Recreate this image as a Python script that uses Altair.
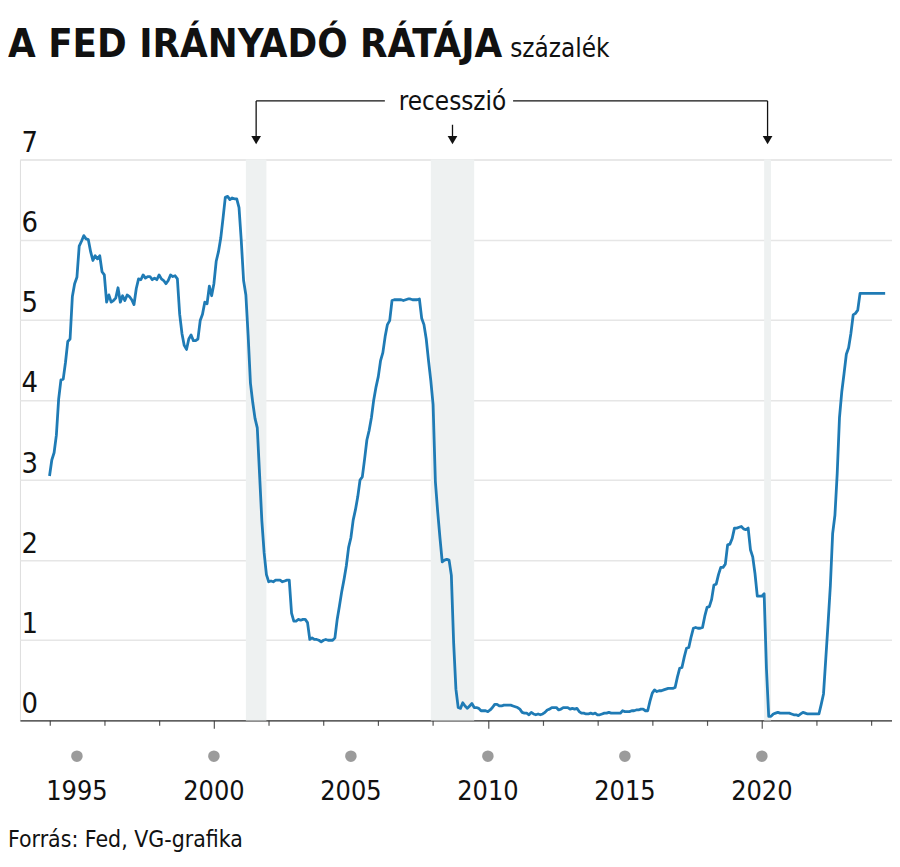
import altair as alt
import pandas as pd

# ---- data: monthly effective federal funds rate (%), Jan..Dec ----
r1994 = [3.05, 3.25, 3.34, 3.56, 4.01, 4.25, 4.26, 4.47, 4.73, 4.76, 5.29, 5.45]
r1995 = [5.53, 5.92, 5.98, 6.05, 6.01, 6.00, 5.85, 5.74, 5.80, 5.76, 5.80, 5.60]
r1996 = [5.56, 5.22, 5.31, 5.22, 5.24, 5.27, 5.40, 5.22, 5.30, 5.24, 5.31, 5.29]
r1997 = [5.25, 5.19, 5.39, 5.51, 5.50, 5.56, 5.52, 5.54, 5.54, 5.50, 5.52, 5.50]
r1998 = [5.56, 5.51, 5.49, 5.45, 5.49, 5.56, 5.54, 5.55, 5.51, 5.07, 4.83, 4.68]
r1999 = [4.63, 4.76, 4.81, 4.74, 4.74, 4.76, 4.99, 5.07, 5.22, 5.20, 5.42, 5.30]
r2000 = [5.45, 5.73, 5.85, 6.02, 6.27, 6.53, 6.54, 6.50, 6.52, 6.51, 6.51, 6.40]
r2001 = [5.98, 5.49, 5.31, 4.80, 4.21, 3.97, 3.77, 3.65, 3.07, 2.49, 2.09, 1.82]
r2002 = [1.73, 1.74, 1.73, 1.75, 1.75, 1.75, 1.73, 1.74, 1.75, 1.75, 1.34, 1.24]
r2003 = [1.24, 1.26, 1.25, 1.26, 1.26, 1.22, 1.01, 1.03, 1.01, 1.01, 1.00, 0.98]
r2004 = [1.00, 1.01, 1.00, 1.00, 1.00, 1.03, 1.26, 1.43, 1.61, 1.76, 1.93, 2.16]
r2005 = [2.28, 2.50, 2.63, 2.79, 3.00, 3.04, 3.26, 3.50, 3.62, 3.78, 4.00, 4.16]
r2006 = [4.29, 4.49, 4.59, 4.79, 4.94, 4.99, 5.24, 5.25, 5.25, 5.25, 5.25, 5.24]
r2007 = [5.25, 5.26, 5.26, 5.25, 5.25, 5.25, 5.26, 5.02, 4.94, 4.76, 4.49, 4.24]
r2008 = [3.94, 2.98, 2.61, 2.28, 1.98, 2.00, 2.01, 2.00, 1.81, 0.97, 0.39, 0.16]
r2009 = [0.15, 0.22, 0.18, 0.15, 0.18, 0.21, 0.16, 0.16, 0.15, 0.12, 0.12, 0.12]
r2010 = [0.11, 0.13, 0.16, 0.20, 0.20, 0.18, 0.18, 0.19, 0.19, 0.19, 0.19, 0.18]
r2011 = [0.17, 0.16, 0.14, 0.10, 0.09, 0.09, 0.07, 0.10, 0.08, 0.07, 0.08, 0.07]
r2012 = [0.08, 0.10, 0.13, 0.14, 0.16, 0.16, 0.16, 0.13, 0.14, 0.16, 0.16, 0.16]
r2013 = [0.14, 0.15, 0.14, 0.15, 0.11, 0.09, 0.09, 0.08, 0.08, 0.09, 0.08, 0.09]
r2014 = [0.07, 0.07, 0.08, 0.09, 0.09, 0.10, 0.09, 0.09, 0.09, 0.09, 0.09, 0.12]
r2015 = [0.11, 0.11, 0.11, 0.12, 0.12, 0.13, 0.13, 0.14, 0.14, 0.12, 0.12, 0.24]
r2016 = [0.34, 0.38, 0.36, 0.37, 0.37, 0.38, 0.39, 0.40, 0.40, 0.40, 0.41, 0.54]
r2017 = [0.65, 0.66, 0.79, 0.90, 0.91, 1.04, 1.15, 1.16, 1.15, 1.15, 1.16, 1.30]
r2018 = [1.41, 1.42, 1.51, 1.69, 1.70, 1.82, 1.91, 1.91, 1.95, 2.19, 2.20, 2.27]
r2019 = [2.40, 2.40, 2.41, 2.42, 2.39, 2.38, 2.40, 2.13, 2.04, 1.83, 1.55, 1.55]
r2020 = [1.55, 1.58, 0.65, 0.05, 0.05, 0.08, 0.09, 0.10, 0.09, 0.09, 0.09, 0.09]
r2021 = [0.09, 0.08, 0.07, 0.07, 0.06, 0.08, 0.10, 0.09, 0.08, 0.08, 0.08, 0.08]
r2022 = [0.08, 0.08, 0.20, 0.33, 0.77, 1.21, 1.68, 2.33, 2.56, 3.08, 3.78, 4.10]
r2023 = [4.33, 4.57, 4.65, 4.83, 5.06, 5.08, 5.12, 5.33, 5.33, 5.33, 5.33, 5.33]
r2024 = [5.33, 5.33, 5.33, 5.33, 5.33, 5.33, 5.33]

series = [r1994, r1995, r1996, r1997, r1998, r1999, r2000, r2001, r2002, r2003,
          r2004, r2005, r2006, r2007, r2008, r2009, r2010, r2011, r2012, r2013,
          r2014, r2015, r2016, r2017, r2018, r2019, r2020, r2021, r2022, r2023, r2024]
first_year = 1994

# recessions (decimal years: start, end)
rec_start = [2001 + 2 / 12, 2007 + 11 / 12, 2020 + 1 / 12]
rec_end = [2001 + 11 / 12, 2009 + 6 / 12, 2020 + 4 / 12]

tick_years = list(range(1994, 2025))
label_years = [1995, 2000, 2005, 2010, 2015, 2020]

title_text = "A FED IRÁNYADÓ RÁTÁJA"
unit_text = "százalék"
annot_text = "recesszió"
source_text = "Forrás: Fed, VG-grafika"

# ---- build tables ----
rows = []
for i, vals in enumerate(series):
    for m, v in enumerate(vals):
        rows.append({"t": first_year + i + m / 12, "rate": v})
df = pd.DataFrame(rows)

rec = pd.DataFrame({"s": rec_start, "e": rec_end})
rec["c"] = (rec["s"] + rec["e"]) / 2

W, H = 877, 564
FONT = "'DejaVu Sans Condensed', 'Liberation Sans Narrow', 'Roboto', sans-serif"
X_DOMAIN = [1992.92, 2024.75]

xs = alt.Scale(domain=X_DOMAIN, nice=False, zero=False)
ys = alt.Scale(domain=[0, 7], nice=False)

x_axis = alt.Axis(
    values=tick_years, labels=False, grid=False, title=None,
    domain=True, domainColor="#333333", domainWidth=1.5,
    ticks=True, tickColor="#555555", tickWidth=1.2,
    tickSize={"condition": {"test": "datum.value % 5 == 0", "value": 8}, "value": 5},
)
y_axis = alt.Axis(
    values=list(range(0, 8)), title=None, domain=False, ticks=False,
    grid=True, gridColor="#e6e6e6", gridWidth=1.5,
    labelAlign="left", labelBaseline="alphabetic", labelPadding=-1,
    labelOffset=-8, labelFont=FONT, labelFontSize=29,
    labelColor="#111111",
)

bands = alt.Chart(rec).mark_rect(color="#eef1f1").encode(
    x=alt.X("s:Q", scale=xs, axis=x_axis),
    x2="e:Q",
    y=alt.value(0),
    y2=alt.value(H),
)

line = alt.Chart(df).mark_line(color="#1f7bb5", strokeWidth=2.8, strokeJoin="round").encode(
    x=alt.X("t:Q", scale=xs, axis=x_axis),
    y=alt.Y("rate:Q", scale=ys, axis=y_axis),
)

# bracket annotation
c1, c2, c3 = rec["c"].tolist()
gap_left, gap_right = 2006.24, 2010.92
hseg = pd.DataFrame({"a": [c1, gap_right], "b": [gap_left, c3]})
bracket_h = alt.Chart(hseg).mark_rule(color="#111111", strokeWidth=1.3).encode(
    x=alt.X("a:Q", scale=xs), x2="b:Q", y=alt.value(-59)
)
vseg = pd.DataFrame({"c": [c1, c2, c3], "top": [-59, -35, -59]})
bracket_v = alt.Chart(vseg).mark_rule(color="#111111", strokeWidth=1.3).encode(
    x=alt.X("c:Q", scale=xs), y=alt.Y("top:Q", scale=None), y2=alt.value(-20)
)
arrows = alt.Chart(vseg).mark_point(shape="triangle-down", filled=True, color="#111111",
                                    size=95, opacity=1).encode(
    x=alt.X("c:Q", scale=xs), y=alt.value(-19.5)
)
annot = alt.Chart(pd.DataFrame({"c": [c2], "txt": [annot_text]})).mark_text(
    font=FONT, fontSize=26, align="center", baseline="alphabetic", color="#111111"
).encode(x=alt.X("c:Q", scale=xs), y=alt.value(-50), text="txt:N")

# x labels with dots
lab = pd.DataFrame({"yr": label_years, "txt": [str(y) for y in label_years]})
dots = alt.Chart(lab).mark_circle(color="#9b9b9b", size=135, opacity=1).encode(
    x=alt.X("yr:Q", scale=xs), y=alt.value(600)
)
xlabels = alt.Chart(lab).mark_text(
    font=FONT, fontSize=27, align="center", baseline="alphabetic", color="#111111"
).encode(x=alt.X("yr:Q", scale=xs), y=alt.value(644), text="txt:N")

# titles and source
title = alt.Chart(pd.DataFrame({"txt": [title_text]})).mark_text(
    font=FONT, fontSize=40, fontWeight="bold", align="left", baseline="alphabetic", color="#111111"
).encode(x=alt.value(-12), y=alt.value(-103), text="txt:N")
unit = alt.Chart(pd.DataFrame({"txt": [unit_text]})).mark_text(
    font=FONT, fontSize=26, align="left", baseline="alphabetic", color="#111111"
).encode(x=alt.value(493), y=alt.value(-103), text="txt:N")
source = alt.Chart(pd.DataFrame({"txt": [source_text]})).mark_text(
    font=FONT, fontSize=23, align="left", baseline="alphabetic", color="#111111"
).encode(x=alt.value(-12), y=alt.value(691), text="txt:N")

chart = alt.layer(
    bands, line, bracket_h, bracket_v, arrows, annot, dots, xlabels, title, unit, source
).properties(
    width=W, height=H,
    autosize=alt.AutoSizeParams(type="none"),
    padding={"left": 12, "top": 150, "right": 0, "bottom": 137},
).configure_view(stroke=None).configure(background="white")

chart.save("out.html", embed_options={"renderer": "svg", "actions": False})
